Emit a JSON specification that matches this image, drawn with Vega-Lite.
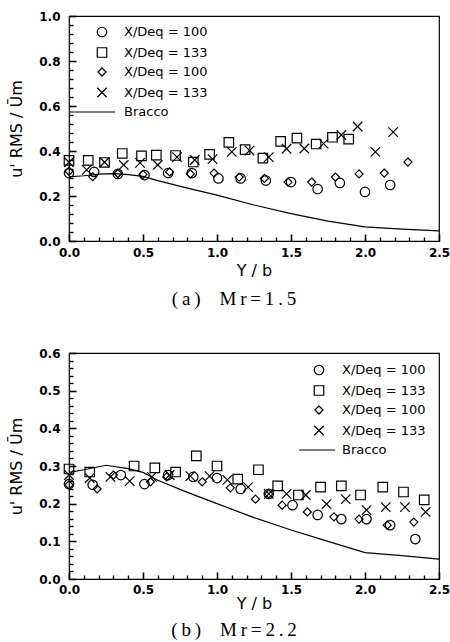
{
  "$schema": "https://vega.github.io/schema/vega-lite/v6.json",
  "padding": {"left": 8, "top": 9, "right": 0, "bottom": 0},
  "spacing": 36,
  "datasets": {
    "pa": [
      {"s":"A","x":0,"y":0.302},{"s":"A","x":0.17,"y":0.307},{"s":"A","x":0.33,"y":0.298},{"s":"A","x":0.51,"y":0.293},{"s":"A","x":0.67,"y":0.302},{"s":"A","x":0.83,"y":0.302},{"s":"A","x":1.01,"y":0.278},{"s":"A","x":1.16,"y":0.278},{"s":"A","x":1.33,"y":0.269},{"s":"A","x":1.5,"y":0.262},{"s":"A","x":1.68,"y":0.231},{"s":"A","x":1.83,"y":0.258},{"s":"A","x":2.0,"y":0.218},{"s":"A","x":2.17,"y":0.249},
      {"s":"B","x":0,"y":0.358},{"s":"B","x":0.13,"y":0.358},{"s":"B","x":0.24,"y":0.349},{"s":"B","x":0.36,"y":0.389},{"s":"B","x":0.49,"y":0.378},{"s":"B","x":0.59,"y":0.382},{"s":"B","x":0.72,"y":0.38},{"s":"B","x":0.84,"y":0.351},{"s":"B","x":0.95,"y":0.385},{"s":"B","x":1.08,"y":0.438},{"s":"B","x":1.19,"y":0.406},{"s":"B","x":1.31,"y":0.368},{"s":"B","x":1.43,"y":0.443},{"s":"B","x":1.54,"y":0.457},{"s":"B","x":1.67,"y":0.431},{"s":"B","x":1.78,"y":0.461},{"s":"B","x":1.89,"y":0.453},
      {"s":"C","x":0,"y":0.31},{"s":"C","x":0.16,"y":0.286},{"s":"C","x":0.33,"y":0.3},{"s":"C","x":0.5,"y":0.296},{"s":"C","x":0.68,"y":0.307},{"s":"C","x":0.82,"y":0.298},{"s":"C","x":0.98,"y":0.302},{"s":"C","x":1.15,"y":0.284},{"s":"C","x":1.32,"y":0.278},{"s":"C","x":1.48,"y":0.262},{"s":"C","x":1.64,"y":0.262},{"s":"C","x":1.8,"y":0.284},{"s":"C","x":1.96,"y":0.298},{"s":"C","x":2.13,"y":0.302},{"s":"C","x":2.29,"y":0.351},
      {"s":"D","x":0,"y":0.35},{"s":"D","x":0.12,"y":0.316},{"s":"D","x":0.24,"y":0.35},{"s":"D","x":0.37,"y":0.338},{"s":"D","x":0.48,"y":0.347},{"s":"D","x":0.6,"y":0.338},{"s":"D","x":0.73,"y":0.373},{"s":"D","x":0.85,"y":0.36},{"s":"D","x":0.97,"y":0.364},{"s":"D","x":1.1,"y":0.396},{"s":"D","x":1.22,"y":0.402},{"s":"D","x":1.35,"y":0.373},{"s":"D","x":1.47,"y":0.41},{"s":"D","x":1.59,"y":0.411},{"s":"D","x":1.72,"y":0.433},{"s":"D","x":1.84,"y":0.471},{"s":"D","x":1.95,"y":0.509},{"s":"D","x":2.07,"y":0.396},{"s":"D","x":2.19,"y":0.484}
    ],
    "pb": [
      {"s":"A","x":0,"y":0.252},{"s":"A","x":0.16,"y":0.25},{"s":"A","x":0.35,"y":0.276},{"s":"A","x":0.51,"y":0.252},{"s":"A","x":0.67,"y":0.276},{"s":"A","x":0.84,"y":0.271},{"s":"A","x":1.0,"y":0.268},{"s":"A","x":1.16,"y":0.239},{"s":"A","x":1.35,"y":0.226},{"s":"A","x":1.51,"y":0.196},{"s":"A","x":1.68,"y":0.17},{"s":"A","x":1.84,"y":0.159},{"s":"A","x":2.01,"y":0.159},{"s":"A","x":2.17,"y":0.143},{"s":"A","x":2.34,"y":0.106},
      {"s":"B","x":0,"y":0.292},{"s":"B","x":0.14,"y":0.284},{"s":"B","x":0.44,"y":0.3},{"s":"B","x":0.58,"y":0.295},{"s":"B","x":0.72,"y":0.284},{"s":"B","x":0.86,"y":0.327},{"s":"B","x":1.0,"y":0.3},{"s":"B","x":1.14,"y":0.265},{"s":"B","x":1.28,"y":0.29},{"s":"B","x":1.41,"y":0.247},{"s":"B","x":1.55,"y":0.223},{"s":"B","x":1.7,"y":0.244},{"s":"B","x":1.84,"y":0.247},{"s":"B","x":1.97,"y":0.223},{"s":"B","x":2.12,"y":0.244},{"s":"B","x":2.26,"y":0.231},{"s":"B","x":2.4,"y":0.21},
      {"s":"C","x":0,"y":0.25},{"s":"C","x":0.19,"y":0.239},{"s":"C","x":0.3,"y":0.276},{"s":"C","x":0.55,"y":0.258},{"s":"C","x":0.66,"y":0.271},{"s":"C","x":0.9,"y":0.258},{"s":"C","x":1.09,"y":0.242},{"s":"C","x":1.26,"y":0.212},{"s":"C","x":1.35,"y":0.226},{"s":"C","x":1.44,"y":0.196},{"s":"C","x":1.61,"y":0.178},{"s":"C","x":1.79,"y":0.165},{"s":"C","x":1.96,"y":0.159},{"s":"C","x":2.15,"y":0.143},{"s":"C","x":2.33,"y":0.151},
      {"s":"D","x":0,"y":0.276},{"s":"D","x":0.14,"y":0.268},{"s":"D","x":0.28,"y":0.271},{"s":"D","x":0.41,"y":0.26},{"s":"D","x":0.56,"y":0.271},{"s":"D","x":0.68,"y":0.276},{"s":"D","x":0.82,"y":0.273},{"s":"D","x":0.95,"y":0.273},{"s":"D","x":1.07,"y":0.263},{"s":"D","x":1.21,"y":0.244},{"s":"D","x":1.35,"y":0.226},{"s":"D","x":1.47,"y":0.226},{"s":"D","x":1.6,"y":0.223},{"s":"D","x":1.74,"y":0.199},{"s":"D","x":1.87,"y":0.212},{"s":"D","x":2.01,"y":0.183},{"s":"D","x":2.14,"y":0.191},{"s":"D","x":2.27,"y":0.191},{"s":"D","x":2.41,"y":0.178}
    ],
    "la": [
      {"x":0,"y":0.285},{"x":0.1,"y":0.29},{"x":0.2,"y":0.297},{"x":0.3,"y":0.299},{"x":0.4,"y":0.295},{"x":0.5,"y":0.287},{"x":0.6,"y":0.268},{"x":0.8,"y":0.235},{"x":1.0,"y":0.204},{"x":1.25,"y":0.16},{"x":1.5,"y":0.122},{"x":1.75,"y":0.088},{"x":2.0,"y":0.063},{"x":2.25,"y":0.053},{"x":2.5,"y":0.045}
    ],
    "lb": [
      {"x":0,"y":0.283},{"x":0.1,"y":0.29},{"x":0.25,"y":0.302},{"x":0.4,"y":0.293},{"x":0.5,"y":0.283},{"x":0.6,"y":0.262},{"x":0.8,"y":0.23},{"x":1.0,"y":0.2},{"x":1.25,"y":0.163},{"x":1.5,"y":0.13},{"x":1.75,"y":0.1},{"x":2.0,"y":0.07},{"x":2.25,"y":0.062},{"x":2.5,"y":0.053}
    ]
  },
  "resolve": {"scale": {"shape": "independent", "y": "independent"}, "legend": {"shape": "independent"}},
  "vconcat": [
    {
      "width": 370,
      "height": 225,
      "title": {"text": "(\u2009a\u2009)\u2003M\u2009r\u2009=\u20091\u2009.\u20095", "orient": "bottom", "font": "Liberation Serif", "fontSize": 19, "fontWeight": "normal", "color": "black", "dx": -20, "offset": 12},
      "resolve": {"axis": {"x": "independent", "y": "independent"}},
      "layer": [
        {
          "data": {"name": "pa"},
          "mark": {"type": "point", "filled": false, "stroke": "black", "strokeWidth": 1.2, "size": 90, "opacity": 1},
          "encoding": {
            "x": {"field": "x", "type": "quantitative", "scale": {"domain": [0, 2.5], "nice": false},
                  "axis": {"orient": "bottom", "values": [0, 0.5, 1, 1.5, 2, 2.5], "format": ".1f", "ticks": false, "tickSize": 0, "labelPadding": 6, "title": "Y / b", "titlePadding": 4}},
            "y": {"field": "y", "type": "quantitative", "scale": {"domain": [0, 1], "nice": false},
                  "axis": {"orient": "left", "values": [0, 0.2, 0.4, 0.6, 0.8, 1.0], "format": ".1f", "ticks": false, "tickSize": 0, "labelPadding": 9, "title": "u' RMS / Ūm", "titlePadding": 14}},
            "shape": {"field": "s", "type": "nominal",
                      "scale": {"domain": ["A", "B", "C", "D", "E"], "range": ["circle", "square", "M0,-0.85L0.85,0L0,0.85L-0.85,0Z", "M-1,-1L1,1M1,-1L-1,1", "M-6.75,0H2.75"]},
                      "legend": {"orient": "none", "legendX": 26.5, "legendY": 9.5, "title": null, "labelOffset": 15.5,
                                 "labelExpr": "datum.label == 'A' || datum.label == 'C' ? 'X/Deq = 100' : datum.label == 'E' ? 'Bracco' : 'X/Deq = 133'"}}
          }
        },
        {
          "data": {"name": "la"},
          "mark": {"type": "line", "color": "black", "strokeWidth": 1.2},
          "encoding": {
            "x": {"field": "x", "type": "quantitative",
                  "axis": {"orient": "bottom", "values": [0, 0.5, 1, 1.5, 2, 2.5], "labels": false, "offset": -7, "tickSize": 7, "tickWidth": 1.6, "title": null}},
            "y": {"field": "y", "type": "quantitative",
                  "axis": {"orient": "left", "values": [0, 0.2, 0.4, 0.6, 0.8, 1.0], "labels": false, "offset": -7, "tickSize": 7, "tickWidth": 1.6, "title": null}}
          }
        },
        {
          "data": {"name": "la"},
          "mark": {"type": "point", "opacity": 0},
          "encoding": {
            "x": {"field": "x", "type": "quantitative",
                  "axis": {"orient": "bottom", "values": [0.1,0.2,0.3,0.4,0.6,0.7,0.8,0.9,1.1,1.2,1.3,1.4,1.6,1.7,1.8,1.9,2.1,2.2,2.3,2.4], "labels": false, "offset": -4, "tickSize": 4, "tickWidth": 1.4, "title": null}},
            "y": {"field": "y", "type": "quantitative",
                  "axis": {"orient": "left", "values": [0.04,0.08,0.12,0.16,0.24,0.28,0.32,0.36,0.44,0.48,0.52,0.56,0.64,0.68,0.72,0.76,0.84,0.88,0.92,0.96], "labels": false, "offset": -4, "tickSize": 4, "tickWidth": 1.4, "title": null}}
          }
        }
      ]
    },
    {
      "width": 370,
      "height": 226,
      "title": {"text": "(\u2009b\u2009)\u2003M\u2009r\u2009=\u20092\u2009.\u20092", "orient": "bottom", "font": "Liberation Serif", "fontSize": 19, "fontWeight": "normal", "color": "black", "dx": -20, "offset": 10},
      "resolve": {"axis": {"x": "independent", "y": "independent"}},
      "layer": [
        {
          "data": {"name": "pb"},
          "mark": {"type": "point", "filled": false, "stroke": "black", "strokeWidth": 1.2, "size": 90, "opacity": 1},
          "encoding": {
            "x": {"field": "x", "type": "quantitative", "scale": {"domain": [0, 2.5], "nice": false},
                  "axis": {"orient": "bottom", "values": [0, 0.5, 1, 1.5, 2, 2.5], "format": ".1f", "ticks": false, "tickSize": 0, "labelPadding": 5, "title": "Y / b", "titlePadding": 0}},
            "y": {"field": "y", "type": "quantitative", "scale": {"domain": [0, 0.6], "nice": false},
                  "axis": {"orient": "left", "values": [0, 0.1, 0.2, 0.3, 0.4, 0.5, 0.6], "format": ".1f", "ticks": false, "tickSize": 0, "labelPadding": 9, "title": "u' RMS / Ūm", "titlePadding": 14}},
            "shape": {"field": "s", "type": "nominal",
                      "scale": {"domain": ["A", "B", "C", "D", "E"], "range": ["circle", "square", "M0,-0.85L0.85,0L0,0.85L-0.85,0Z", "M-1,-1L1,1M1,-1L-1,1", "M-4.2,0H3.4"]},
                      "legend": {"orient": "none", "legendX": 243.5, "legendY": 10.5, "title": null, "labelOffset": 16.5,
                                 "labelExpr": "datum.label == 'A' || datum.label == 'C' ? 'X/Deq = 100' : datum.label == 'E' ? 'Bracco' : 'X/Deq = 133'"}}
          }
        },
        {
          "data": {"name": "lb"},
          "mark": {"type": "line", "color": "black", "strokeWidth": 1.2},
          "encoding": {
            "x": {"field": "x", "type": "quantitative",
                  "axis": {"orient": "bottom", "values": [0, 0.5, 1, 1.5, 2, 2.5], "labels": false, "offset": -7, "tickSize": 7, "tickWidth": 1.6, "title": null}},
            "y": {"field": "y", "type": "quantitative",
                  "axis": {"orient": "left", "values": [0, 0.1, 0.2, 0.3, 0.4, 0.5, 0.6], "labels": false, "offset": -7, "tickSize": 7, "tickWidth": 1.6, "title": null}}
          }
        },
        {
          "data": {"name": "lb"},
          "mark": {"type": "point", "opacity": 0},
          "encoding": {
            "x": {"field": "x", "type": "quantitative",
                  "axis": {"orient": "bottom", "values": [0.1,0.2,0.3,0.4,0.6,0.7,0.8,0.9,1.1,1.2,1.3,1.4,1.6,1.7,1.8,1.9,2.1,2.2,2.3,2.4], "labels": false, "offset": -4, "tickSize": 4, "tickWidth": 1.4, "title": null}},
            "y": {"field": "y", "type": "quantitative",
                  "axis": {"orient": "left", "values": [0.02,0.04,0.06,0.08,0.12,0.14,0.16,0.18,0.22,0.24,0.26,0.28,0.32,0.34,0.36,0.38,0.42,0.44,0.46,0.48,0.52,0.54,0.56,0.58], "labels": false, "offset": -4, "tickSize": 4, "tickWidth": 1.4, "title": null}}
          }
        }
      ]
    }
  ],
  "config": {
    "view": {"stroke": "black", "strokeWidth": 1.2},
    "axis": {"labelFont": "DejaVu Sans", "labelFontSize": 12, "labelFontWeight": "bold", "labelColor": "black",
             "titleFont": "DejaVu Sans", "titleFontSize": 16, "titleFontWeight": "normal", "titleColor": "black",
             "tickColor": "black", "tickWidth": 1.3, "domain": false, "grid": false, "labelFlush": false, "zindex": 1},
    "legend": {"labelFont": "DejaVu Sans", "labelFontSize": 13, "labelColor": "black", "symbolStrokeColor": "black",
               "symbolStrokeWidth": 1.2, "symbolSize": 90, "symbolFillColor": "transparent", "rowPadding": 5.5, "padding": 0}
  }
}
